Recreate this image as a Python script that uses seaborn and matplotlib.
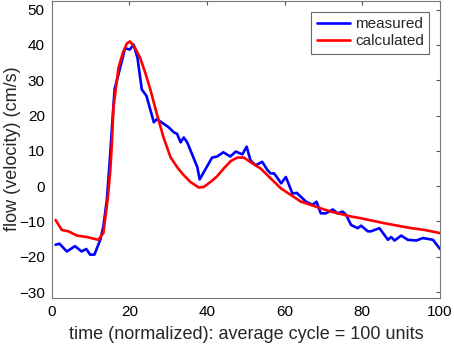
import matplotlib
matplotlib.use("Agg")
import matplotlib.pyplot as plt
import seaborn as sns
import pandas as pd

blue_x = [1, 2, 3.9, 6, 7.7, 8.9, 9.9, 11, 12.5, 13.3, 14.2, 15, 15.6, 16.2, 17.2, 18.9, 20.1, 21.1,
          22.1, 23.2, 24.4, 26.3, 27.1, 30.1, 31.4, 32.3, 33.2, 34, 34.9, 37.5, 38.1, 41.3, 42.6,
          44.2, 46, 47.4, 49.1, 50.2, 51.2, 52.5, 54.2, 55.6, 56.4, 57.3, 59.1, 60.3, 62, 63.1,
          65.5, 67.2, 68.2, 69.3, 70.6, 72.4, 73.6, 74.9, 75.8, 77.1, 78.8, 79.7, 81.4, 82.2,
          84.4, 86.6, 87.4, 88.3, 90, 91.7, 93.9, 95.6, 98.2, 100]
blue_y = [-16.6, -16.3, -18.5, -17, -18.5, -17.8, -19.4, -19.4, -15.2, -11.4, -3.9, 8, 18, 27.5,
          31.7, 39.1, 38.7, 40.1, 36.3, 27.4, 25.6, 18.1, 19, 16.7, 15.3, 14.8, 12.4, 13.8, 12.4,
          5.4, 1.9, 8.1, 8.4, 9.6, 8.4, 9.8, 9, 11.2, 7.3, 5.9, 6.9, 4.5, 3.6, 3.6, 0.8, 2.6,
          -2.1, -1.9, -4.4, -5.3, -4.4, -7.7, -7.7, -6.6, -7.7, -7.2, -8.1, -11, -11.9, -11.2,
          -12.8, -12.8, -11.9, -15.2, -14.4, -15.4, -14, -15.2, -15.4, -14.7, -15.2, -17.8]

red_x = [1, 2.6, 4.3, 6.5, 9, 12, 13.3, 14.4, 15.1, 15.5, 15.9, 17.2, 18.3, 19.4, 20.2, 21.5, 22.8,
         24.1, 25.4, 27.1, 28.8, 30.6, 32.3, 33.6, 35.7, 37.9, 39.2, 40.9, 42.6, 44.3, 46.1,
         47.8, 49.5, 51.2, 53.8, 56.4, 59, 61.6, 64.2, 66.7, 69.3, 71.9, 74.5, 77.1, 79.7,
         82.2, 85.7, 89.1, 92.6, 96, 100]
red_y = [-9.6, -12.4, -12.8, -14, -14.4, -15.2, -13.3, -3.9, 4.5, 12, 22.3, 33.5, 37.7, 40.5, 41,
         39.1, 36.3, 32.1, 27.4, 20.4, 13.8, 8.2, 5.4, 3.6, 1.2, -0.4, -0.2, 1.2, 2.8, 5, 7.1,
         8.1, 8.1, 6.8, 5, 2.2, -0.6, -2.5, -4.4, -5.3, -6.3, -7.2, -7.9, -8.6, -9.1, -9.7,
         -10.5, -11.2, -11.9, -12.4, -13.3]

x_ticks = [0, 20, 40, 60, 80, 100]
y_ticks = [-30, -20, -10, 0, 10, 20, 30, 40, 50]

sns.set_style("white")
plt.rcParams['font.family'] = ['Liberation Sans', 'DejaVu Sans']

W, H = 454, 348
fig = plt.figure(figsize=(W / 100, H / 100), dpi=100)
ax = fig.add_axes([51.7 / W, (H - 297.7) / H, (440 - 51.7) / W, 297.2 / H])

df_b = pd.DataFrame({"x": blue_x, "y": blue_y})
df_r = pd.DataFrame({"x": red_x, "y": red_y})
sns.lineplot(data=df_b, x="x", y="y", ax=ax, color=(0, 0, 1), lw=1.9, label="measured", sort=False)
sns.lineplot(data=df_r, x="x", y="y", ax=ax, color=(1, 0, 0), lw=1.9, label="calculated", sort=False)

ax.set_xlim(0, 100)
ax.set_ylim(-31.6, 52.6)
ax.set_xticks(x_ticks)
ax.set_yticks(y_ticks)
ax.tick_params(direction="in", length=3, width=0.8, colors="#555555", labelcolor="black",
               labelsize=11, top=True, right=True, pad=5)
for s in ax.spines.values():
    s.set_color("#777777")
    s.set_linewidth(0.8)
ax.set_xlabel("time (normalized): average cycle = 100 units", fontsize=13, labelpad=5)
ax.set_ylabel("flow (velocity) (cm/s)", fontsize=13)
ax.yaxis.set_label_coords(-0.079, 0.5)

leg = ax.legend(loc="upper right", fontsize=11, frameon=True, fancybox=False,
                handlelength=2.2, handletextpad=0.3, borderpad=0.35, labelspacing=0.2,
                borderaxespad=0, bbox_to_anchor=(0.972, 0.961))
leg.get_frame().set_edgecolor("#444444")
leg.get_frame().set_linewidth(0.8)

fig.savefig("out.png", dpi=100)
